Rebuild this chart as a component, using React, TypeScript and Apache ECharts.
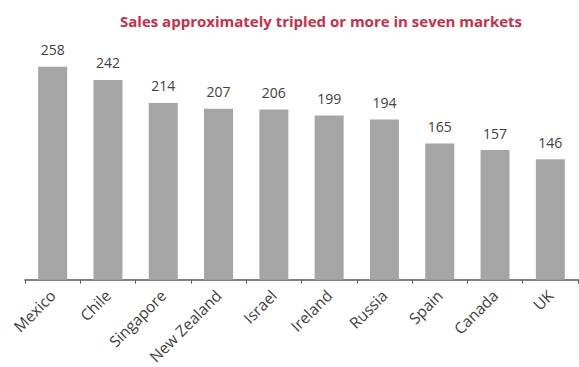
import React, { useEffect, useRef } from "react";
import * as echarts from "echarts";

const categories = ["Mexico", "Chile", "Singapore", "New Zealand", "Israel", "Ireland", "Russia", "Spain", "Canada", "UK"];
const salesValues = [258, 242, 214, 207, 206, 199, 194, 165, 157, 146];
const titleText = "Sales approximately tripled or more in seven markets";

export default function App() {
  const ref = useRef<HTMLDivElement>(null);
  useEffect(() => {
    if (!ref.current) return;
    const chart = echarts.init(ref.current, null, { renderer: "svg" });
    chart.setOption({
      animation: false,
      backgroundColor: "#ffffff",
      title: {
        text: titleText,
        left: 316,
        top: 8,
        textAlign: "center",
        textStyle: { color: "#c4314b", fontSize: 15, fontWeight: "bold", fontFamily: "Open Sans" },
      },
      grid: { left: 25, right: 1, top: 32, bottom: 86 },
      xAxis: {
        type: "category",
        data: categories,
        axisLine: { lineStyle: { color: "#595959", width: 1.5 } },
        axisTick: { show: true, length: 4, lineStyle: { color: "#595959" } },
        axisLabel: {
          rotate: 45,
          margin: 13,
          color: "#404040",
          fontSize: 15.5,
          fontFamily: "Open Sans",
        },
      },
      yAxis: { type: "value", min: 0, max: 300, show: false, splitLine: { show: false } },
      series: [
        {
          type: "bar",
          data: salesValues,
          barWidth: 29,
          itemStyle: { color: "#a5a5a5" },
          label: {
            show: true,
            position: "top",
            distance: 10,
            color: "#404040",
            fontSize: 14,
            fontFamily: "Open Sans",
          },
        },
      ],
    });
    return () => chart.dispose();
  }, []);
  return <div ref={ref} style={{ position: "fixed", left: 0, top: 0, width: 579, height: 367 }} />;
}
